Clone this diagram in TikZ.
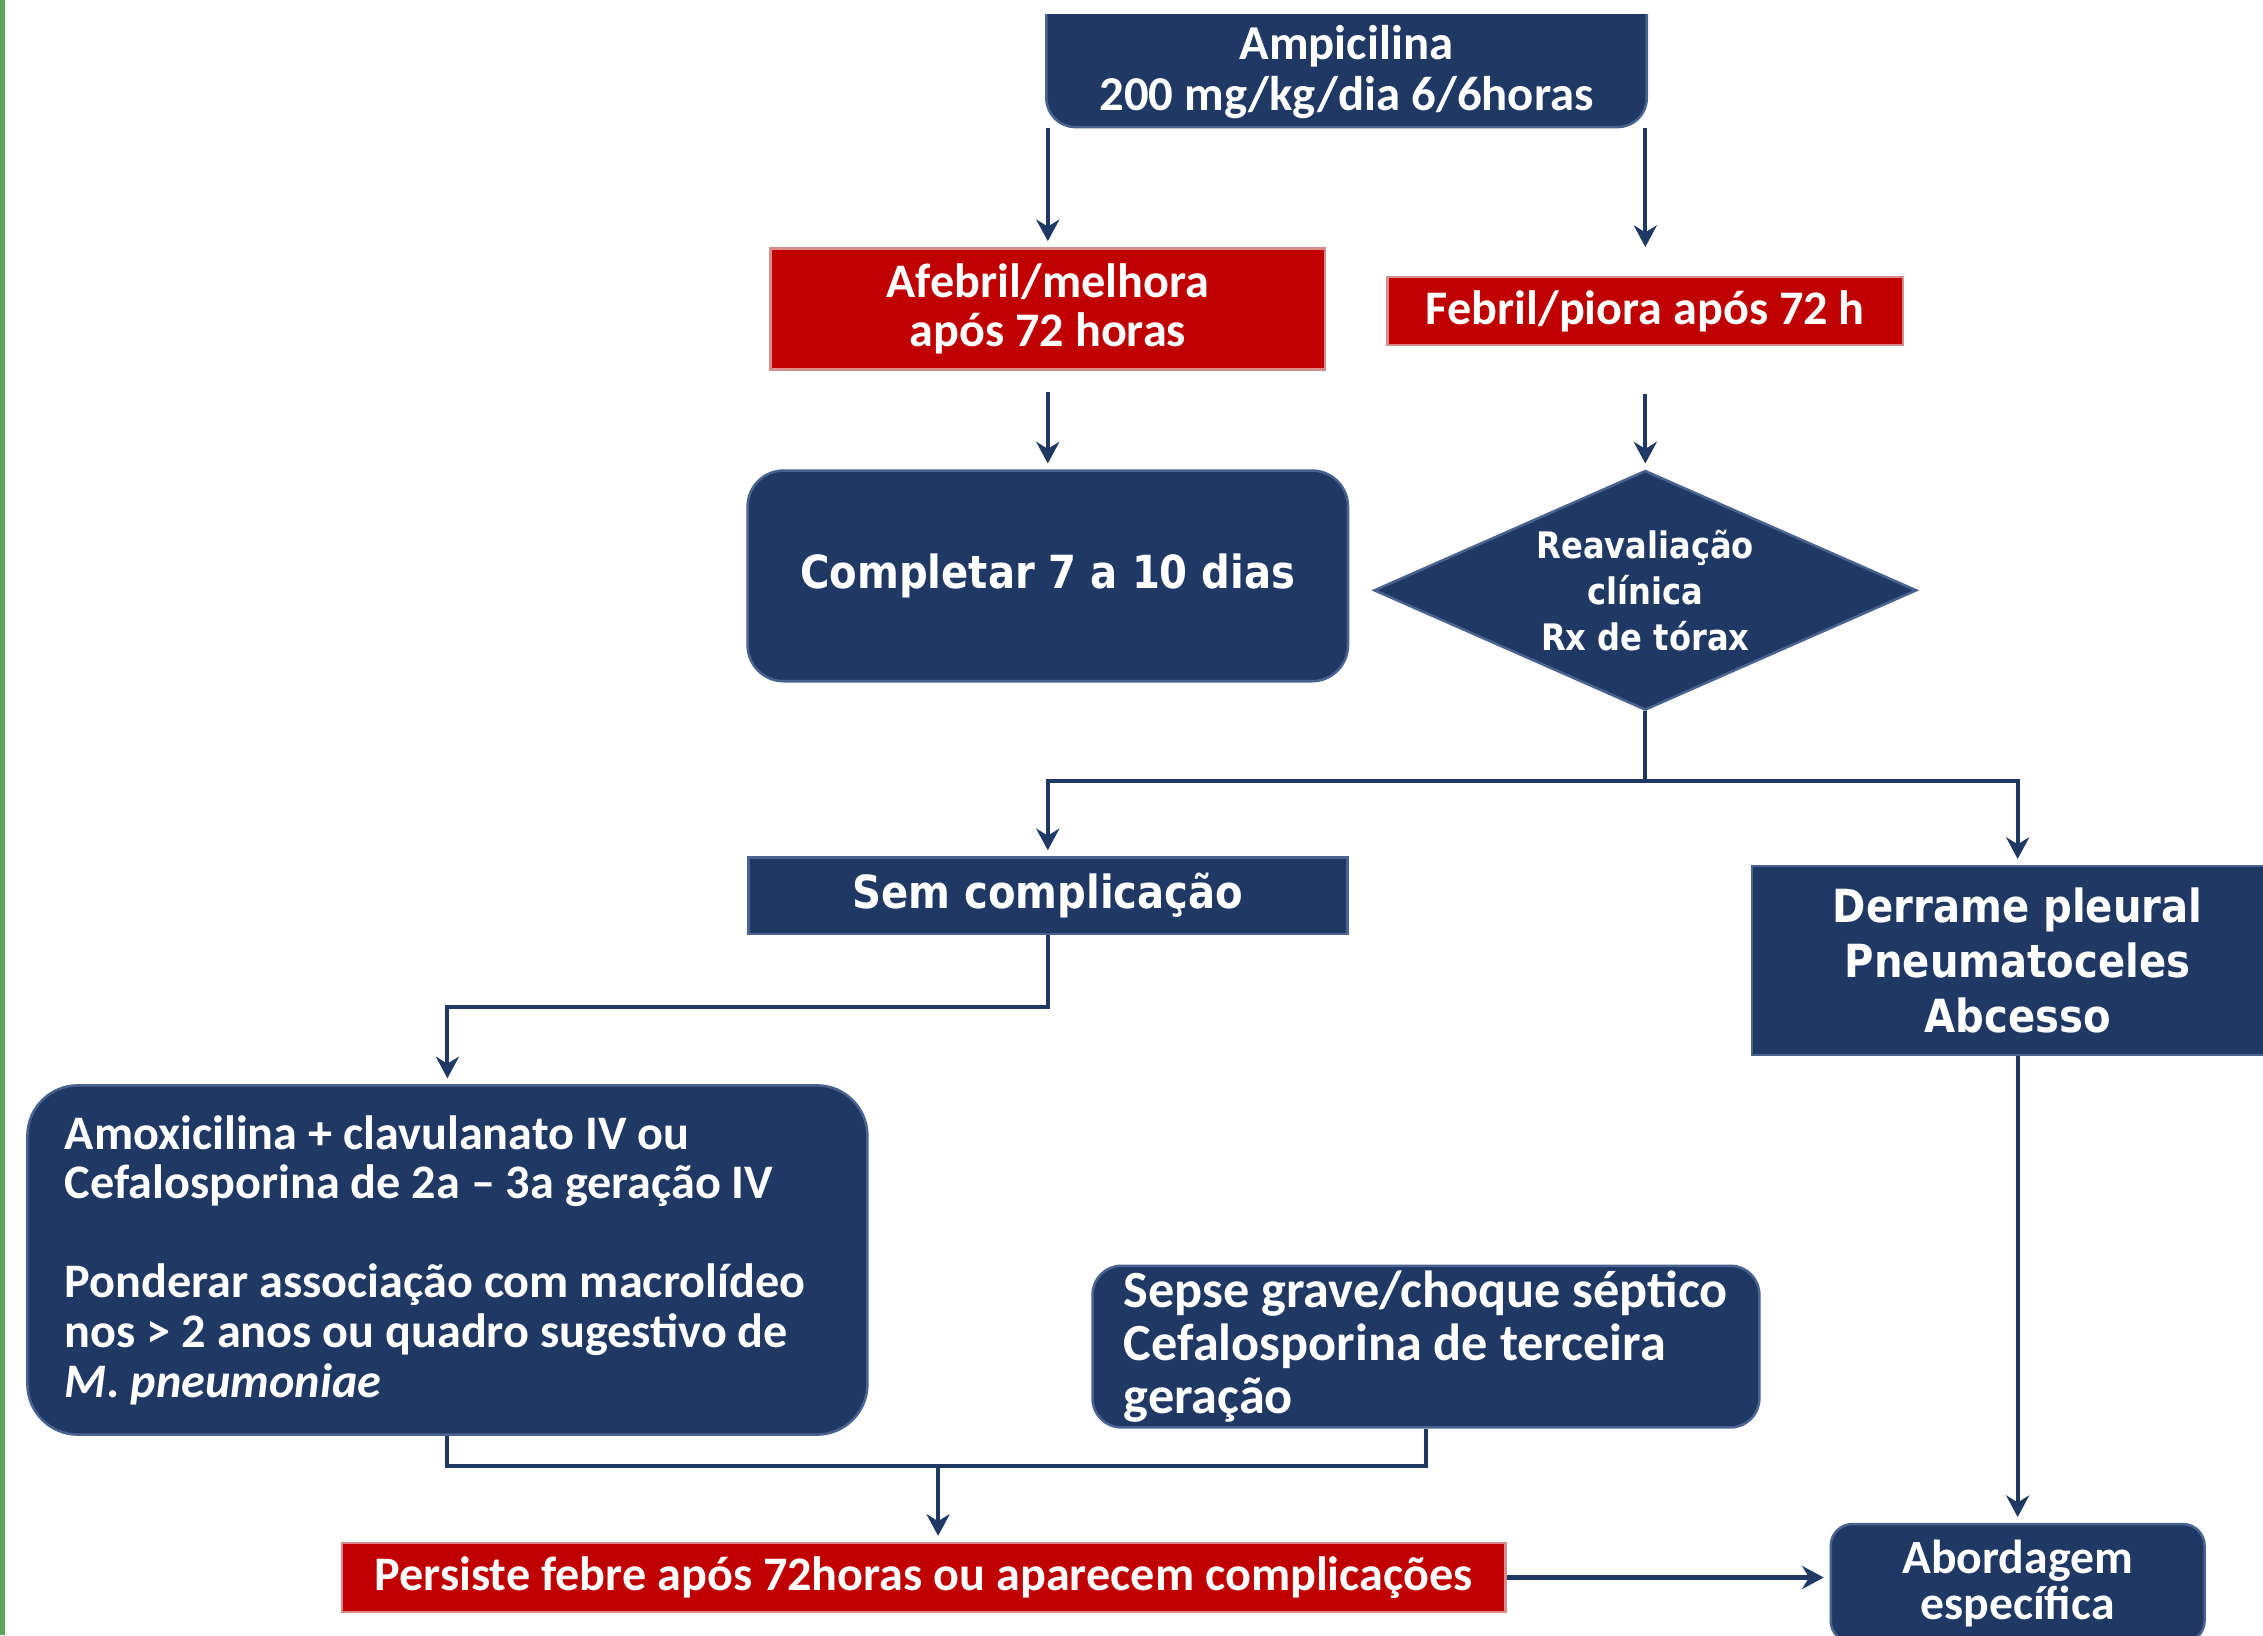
\documentclass[tikz,border=0pt]{standalone}
\usepackage{fontspec}
\setmainfont{Carlito}
\newfontfamily\widefont[FakeStretch=0.88]{DejaVu Sans}
\usepackage{xcolor}
\usepackage{tikz}
\usetikzlibrary{shapes.geometric}
\usetikzlibrary{arrows.meta}
\definecolor{navy}{HTML}{1F3864}
\definecolor{navyedge}{HTML}{4A6290}
\definecolor{alert}{HTML}{C00000}
\definecolor{alertedge}{HTML}{D98C8C}
\definecolor{frame}{HTML}{5DA75A}
\tikzset{
    navybox/.style = {rectangle, draw=navyedge, fill=navy, text=white, align=center, inner sep=0pt, line width=0.5pt},
    redbox/.style = {rectangle, draw=alertedge, fill=alert, text=white, align=center, inner sep=0pt, line width=0.5pt, font=\bfseries\fontsize{9.5}{9.8}\selectfont},
    narrow/.style = {font=\bfseries\fontsize{9.5}{9.8}\selectfont},
    wide/.style = {font=\widefont\bfseries\fontsize{9}{10.8}\selectfont},
}

\begin{document}
\begin{tikzpicture}[
    line width=0.8pt,
    >={Stealth[length=1.5mm,width=1.6mm]}
]
\tikzset{
    arr/.style = {->, draw=navy, shorten >=0.4mm},
    link/.style = {-, draw=navy}
}
\useasboundingbox (0,0) rectangle (15.68,-11.33);
\fill[frame] (0,0) rectangle (0.035,-11.33);
\begin{scope}
\clip (0.035,-0.10) rectangle (15.68,-11.33);
\node[navybox, font=\bfseries\fontsize{9.6}{10}\selectfont, rounded corners=0.2cm, minimum width=4.16cm, minimum height=1.12cm] at (9.33,-0.32) (start) {\strut\\Ampicilina\\200 mg/kg/dia 6/6horas};
\node[redbox, minimum width=3.84cm, minimum height=0.84cm] at (7.26,-2.14) (afeb) {Afebril/melhora\\após 72 horas};
\node[redbox, minimum width=3.57cm, minimum height=0.47cm] at (11.40,-2.155) (febr) {Febril/piora após 72 h};
\node[navybox, wide, rounded corners=0.25cm, minimum width=4.16cm, minimum height=1.46cm] at (7.26,-3.99) (compl) {Completar 7 a 10 dias};
\node[diamond, fill=navy, draw=navyedge, line width=0.5pt, text=white, align=center, inner sep=0pt, aspect=2.26, minimum width=3.76cm, minimum height=1.66cm, font=\widefont\bfseries\fontsize{7.2}{9.1}\selectfont] at (11.40,-4.09) (reav) {Reavaliação\\clínica\\Rx de tórax};
\node[navybox, wide, minimum width=4.15cm, minimum height=0.53cm] at (7.26,-6.205) (sem) {Sem complicação};
\node[navybox, wide, minimum width=3.68cm, minimum height=1.31cm] at (13.98,-6.655) (derr) {Derrame pleural\\Pneumatoceles\\Abcesso};
\node[navybox, narrow, rounded corners=0.35cm, align=flush left, text width=5.3cm, minimum width=5.82cm, minimum height=2.42cm] at (3.10,-8.73) (amox) {Amoxicilina + clavulanato IV ou\\Cefalosporina de 2a – 3a geração IV\\[9.7pt]Ponderar associação com macrolídeo\\nos > 2 anos ou quadro sugestivo de\\\textit{M. pneumoniae}};
\node[navybox, font=\bfseries\fontsize{10.3}{10.4}\selectfont, rounded corners=0.2cm, align=left, minimum width=4.62cm, minimum height=1.12cm] at (9.88,-9.33) (sepse) {Sepse grave/choque séptico\\Cefalosporina de terceira\\geração};
\node[redbox, minimum width=8.06cm, minimum height=0.48cm] at (6.40,-10.93) (pers) {Persiste febre após 72horas ou aparecem complicações};
\node[navybox, font=\bfseries\fontsize{9.4}{9.1}\selectfont, rounded corners=0.15cm, minimum width=2.59cm, minimum height=0.82cm] at (13.98,-10.97) (abord) {Abordagem\\específica};
\coordinate (split) at (11.40,-5.41);
\coordinate (merge) at (6.50,-10.16);
\draw[arr] (afeb.north |- start.south) -- (afeb.north);
\draw[arr, shorten >=2mm] (febr.north |- start.south) -- (febr.north);
\draw[arr, shorten <=1.5mm] (afeb.south) -- (compl.north);
\draw[arr, shorten <=3.3mm] (febr.south) -- (reav.north);
\draw[link] (reav.south) -- (split);
\draw[arr] (split) -| (sem.north);
\draw[arr] (split) -| (derr.north);
\draw[arr] (sem.south) -- ++(0,-0.50) -| (amox.north);
\draw[link] (amox.south) |- (merge) -| (sepse.south);
\draw[arr] (merge) -- (merge |- pers.north);
\draw[arr] (pers.east) -- (pers.east -| abord.west);
\draw[arr] (derr.south) -- (abord.north);
\end{scope}
\end{tikzpicture}
\end{document}
